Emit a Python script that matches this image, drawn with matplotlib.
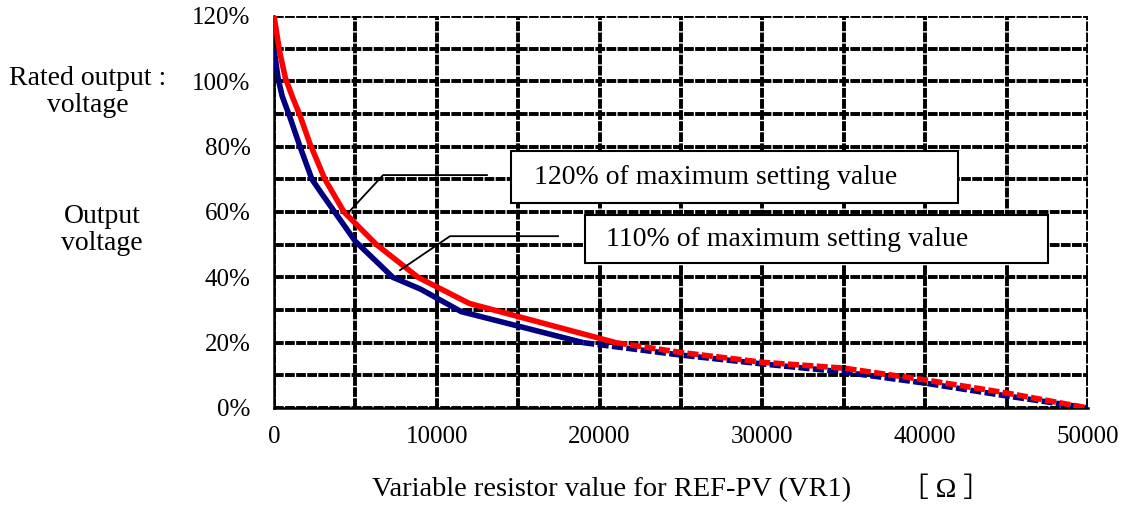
import matplotlib
matplotlib.use("Agg")
import matplotlib.pyplot as plt
from matplotlib.patches import Rectangle
import numpy as np

plt.rcParams['font.family'] = ['Liberation Serif', 'Noto Sans CJK JP', 'DejaVu Sans']

# 120% curve (resistance in ohm, output in %)
red_x = [0, 350, 700, 1150, 1600, 2200, 3130, 4300, 4800, 6300, 8850, 12000, 21000,
         25000, 30000, 35000, 40000, 45000, 50000]
red_y = [120, 109, 101, 95, 89.5, 81, 70, 60, 57.5, 50, 40, 32, 20,
         17, 14, 12.2, 8.6, 4.6, 0]
red_dash_from = 21000

# 110% curve
blue_x = [0, 250, 500, 980, 1600, 2330, 2950, 5000, 7300, 9000, 11500, 19000,
          25000, 30000, 35000, 40000, 45000, 50000]
blue_y = [110, 101, 95.5, 89, 80, 70, 65.5, 51, 40, 36.4, 29.5, 20,
          16.2, 13.5, 11, 7.6, 3.7, 0]
blue_dash_from = 19000

x_ticks = [0, 10000, 20000, 30000, 40000, 50000]
y_ticks = [0, 20, 40, 60, 80, 100, 120]
y_ticklabels = ["0%", "20%", "40%", "60%", "80%", "100%", "120%"]

fig = plt.figure(figsize=(11.22, 5.19), dpi=100)
ax = fig.add_axes([274 / 1122, 1 - 408 / 519, 814 / 1122, 392 / 519])
ax.set_xlim(0, 50000)
ax.set_ylim(0, 120)

# 网格
ax.set_xticks(x_ticks)
ax.set_xticks(np.arange(0, 50001, 5000), minor=True)
ax.set_yticks(y_ticks)
ax.set_yticks(np.arange(0, 121, 10), minor=True)
ax.set_yticklabels(y_ticklabels)
ax.grid(True, which='both', color='black', linewidth=2.8, linestyle=(0, (2.5, 0.35)), zorder=1)
ax.tick_params(which='both', length=0)
ax.tick_params(axis='y', pad=17, labelsize=18)
ax.tick_params(axis='x', pad=13, labelsize=18)
for s in ['top', 'right']:
    ax.spines[s].set_visible(False)
for s in ['left', 'bottom']:
    ax.spines[s].set_linewidth(1.8)
    ax.spines[s].set_zorder(3)


def draw_curve(xs, ys, split, color, z):
    xs = np.array(xs)
    ys = np.array(ys)
    solid = xs <= split
    dash = xs >= split
    ax.plot(xs[solid], ys[solid], color=color, linewidth=4, solid_capstyle='butt',
            solid_joinstyle='round', zorder=z)
    ax.plot(xs[dash], ys[dash], color=color, linewidth=4, linestyle=(0, (2, 0.6)), zorder=z)


draw_curve(blue_x, blue_y, blue_dash_from, '#000080', 4)
draw_curve(red_x, red_y, red_dash_from, '#FF0000', 5)

# 标注
ax.plot([4545, 6700, 13080], [59.7, 71.3, 71.3], color='black', linewidth=1.3, zorder=6)
ax.plot([7740, 10810, 17445], [42.2, 52.6, 52.6], color='black', linewidth=1.3, zorder=6)
ax.add_patch(Rectangle((14560, 62.7), 42015 - 14560, 78.7 - 62.7, facecolor='white',
                       edgecolor='black', linewidth=1.5, zorder=7))
ax.add_patch(Rectangle((19100, 44.4), 47540 - 19100, 59.1 - 44.4, facecolor='white',
                       edgecolor='black', linewidth=1.5, zorder=7))
ax.text(15970, 70.7, "120% of maximum setting value", fontsize=20, va='center', ha='left', zorder=8)
ax.text(20390, 51.7, "110% of maximum setting value", fontsize=20, va='center', ha='left', zorder=8)

# 轴标签
fig.text(88 / 1122, 1 - 92 / 519, "Rated output :\nvoltage", fontsize=20, ha='center', va='center',
         multialignment='center', linespacing=1.15)
fig.text(102 / 1122, 1 - 230 / 519, "Output\nvoltage", fontsize=20, ha='center', va='center',
         multialignment='center', linespacing=1.15)
fig.text(372 / 1122, 1 - 490 / 519, "Variable resistor value for REF-PV (VR1)", fontsize=20.5,
         ha='left', va='center')
fig.text(946 / 1122, 1 - 490 / 519, "［ Ω ］", fontsize=20, ha='center', va='center')

plt.savefig("out.png", dpi=100)
